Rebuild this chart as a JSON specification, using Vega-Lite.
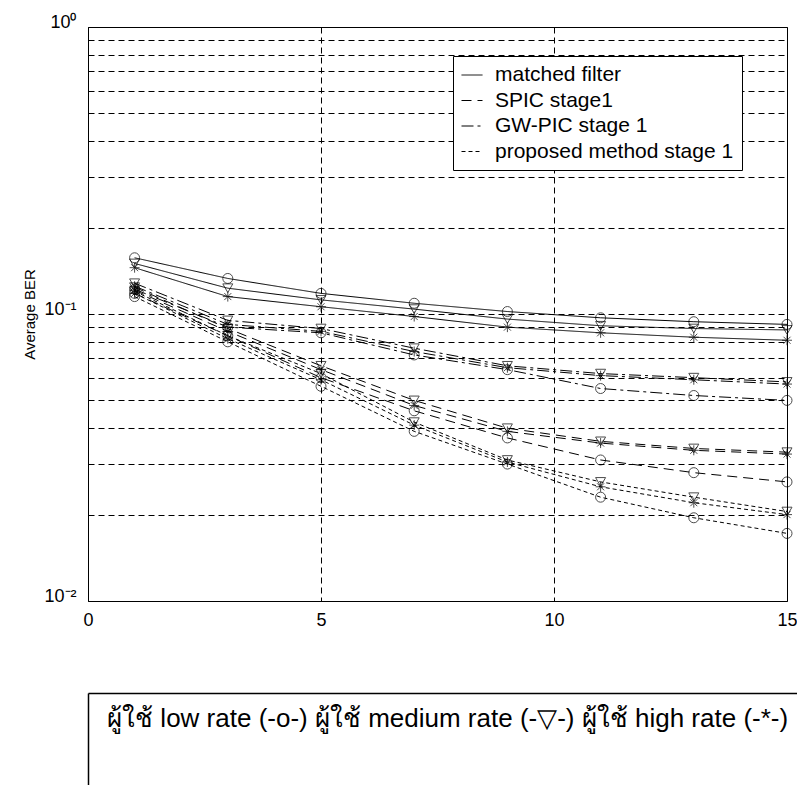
{
  "$schema": "https://vega.github.io/schema/vega-lite/v6.json",
  "background": "white",
  "padding": {"left": 22, "top": 12, "right": 0, "bottom": 0},
  "spacing": 63,
  "config": {"font": "Liberation Sans", "view": {"stroke": null}},
  "datasets": {
    "series": [
      {"method": "matched filter", "rate": "low", "x": 1, "ber": 0.157},
      {"method": "matched filter", "rate": "low", "x": 3, "ber": 0.133},
      {"method": "matched filter", "rate": "low", "x": 5, "ber": 0.118},
      {"method": "matched filter", "rate": "low", "x": 7, "ber": 0.109},
      {"method": "matched filter", "rate": "low", "x": 9, "ber": 0.102},
      {"method": "matched filter", "rate": "low", "x": 11, "ber": 0.097},
      {"method": "matched filter", "rate": "low", "x": 13, "ber": 0.094},
      {"method": "matched filter", "rate": "low", "x": 15, "ber": 0.092},
      {"method": "matched filter", "rate": "medium", "x": 1, "ber": 0.150},
      {"method": "matched filter", "rate": "medium", "x": 3, "ber": 0.123},
      {"method": "matched filter", "rate": "medium", "x": 5, "ber": 0.112},
      {"method": "matched filter", "rate": "medium", "x": 7, "ber": 0.104},
      {"method": "matched filter", "rate": "medium", "x": 9, "ber": 0.096},
      {"method": "matched filter", "rate": "medium", "x": 11, "ber": 0.091},
      {"method": "matched filter", "rate": "medium", "x": 13, "ber": 0.089},
      {"method": "matched filter", "rate": "medium", "x": 15, "ber": 0.088},
      {"method": "matched filter", "rate": "high", "x": 1, "ber": 0.145},
      {"method": "matched filter", "rate": "high", "x": 3, "ber": 0.115},
      {"method": "matched filter", "rate": "high", "x": 5, "ber": 0.106},
      {"method": "matched filter", "rate": "high", "x": 7, "ber": 0.098},
      {"method": "matched filter", "rate": "high", "x": 9, "ber": 0.090},
      {"method": "matched filter", "rate": "high", "x": 11, "ber": 0.086},
      {"method": "matched filter", "rate": "high", "x": 13, "ber": 0.083},
      {"method": "matched filter", "rate": "high", "x": 15, "ber": 0.081},

      {"method": "GW-PIC stage 1", "rate": "medium", "x": 1, "ber": 0.128},
      {"method": "GW-PIC stage 1", "rate": "medium", "x": 3, "ber": 0.095},
      {"method": "GW-PIC stage 1", "rate": "medium", "x": 5, "ber": 0.089},
      {"method": "GW-PIC stage 1", "rate": "medium", "x": 7, "ber": 0.076},
      {"method": "GW-PIC stage 1", "rate": "medium", "x": 9, "ber": 0.066},
      {"method": "GW-PIC stage 1", "rate": "medium", "x": 11, "ber": 0.062},
      {"method": "GW-PIC stage 1", "rate": "medium", "x": 13, "ber": 0.060},
      {"method": "GW-PIC stage 1", "rate": "medium", "x": 15, "ber": 0.058},
      {"method": "GW-PIC stage 1", "rate": "high", "x": 1, "ber": 0.125},
      {"method": "GW-PIC stage 1", "rate": "high", "x": 3, "ber": 0.092},
      {"method": "GW-PIC stage 1", "rate": "high", "x": 5, "ber": 0.087},
      {"method": "GW-PIC stage 1", "rate": "high", "x": 7, "ber": 0.074},
      {"method": "GW-PIC stage 1", "rate": "high", "x": 9, "ber": 0.065},
      {"method": "GW-PIC stage 1", "rate": "high", "x": 11, "ber": 0.061},
      {"method": "GW-PIC stage 1", "rate": "high", "x": 13, "ber": 0.059},
      {"method": "GW-PIC stage 1", "rate": "high", "x": 15, "ber": 0.057},
      {"method": "GW-PIC stage 1", "rate": "low", "x": 1, "ber": 0.122},
      {"method": "GW-PIC stage 1", "rate": "low", "x": 3, "ber": 0.090},
      {"method": "GW-PIC stage 1", "rate": "low", "x": 5, "ber": 0.086},
      {"method": "GW-PIC stage 1", "rate": "low", "x": 7, "ber": 0.072},
      {"method": "GW-PIC stage 1", "rate": "low", "x": 9, "ber": 0.064},
      {"method": "GW-PIC stage 1", "rate": "low", "x": 11, "ber": 0.055},
      {"method": "GW-PIC stage 1", "rate": "low", "x": 13, "ber": 0.052},
      {"method": "GW-PIC stage 1", "rate": "low", "x": 15, "ber": 0.050},

      {"method": "SPIC stage1", "rate": "medium", "x": 1, "ber": 0.124},
      {"method": "SPIC stage1", "rate": "medium", "x": 3, "ber": 0.089},
      {"method": "SPIC stage1", "rate": "medium", "x": 5, "ber": 0.066},
      {"method": "SPIC stage1", "rate": "medium", "x": 7, "ber": 0.050},
      {"method": "SPIC stage1", "rate": "medium", "x": 9, "ber": 0.040},
      {"method": "SPIC stage1", "rate": "medium", "x": 11, "ber": 0.036},
      {"method": "SPIC stage1", "rate": "medium", "x": 13, "ber": 0.034},
      {"method": "SPIC stage1", "rate": "medium", "x": 15, "ber": 0.033},
      {"method": "SPIC stage1", "rate": "high", "x": 1, "ber": 0.121},
      {"method": "SPIC stage1", "rate": "high", "x": 3, "ber": 0.087},
      {"method": "SPIC stage1", "rate": "high", "x": 5, "ber": 0.064},
      {"method": "SPIC stage1", "rate": "high", "x": 7, "ber": 0.048},
      {"method": "SPIC stage1", "rate": "high", "x": 9, "ber": 0.039},
      {"method": "SPIC stage1", "rate": "high", "x": 11, "ber": 0.0355},
      {"method": "SPIC stage1", "rate": "high", "x": 13, "ber": 0.0335},
      {"method": "SPIC stage1", "rate": "high", "x": 15, "ber": 0.0325},
      {"method": "SPIC stage1", "rate": "low", "x": 1, "ber": 0.118},
      {"method": "SPIC stage1", "rate": "low", "x": 3, "ber": 0.084},
      {"method": "SPIC stage1", "rate": "low", "x": 5, "ber": 0.060},
      {"method": "SPIC stage1", "rate": "low", "x": 7, "ber": 0.046},
      {"method": "SPIC stage1", "rate": "low", "x": 9, "ber": 0.037},
      {"method": "SPIC stage1", "rate": "low", "x": 11, "ber": 0.031},
      {"method": "SPIC stage1", "rate": "low", "x": 13, "ber": 0.028},
      {"method": "SPIC stage1", "rate": "low", "x": 15, "ber": 0.026},

      {"method": "proposed method stage 1", "rate": "medium", "x": 1, "ber": 0.120},
      {"method": "proposed method stage 1", "rate": "medium", "x": 3, "ber": 0.084},
      {"method": "proposed method stage 1", "rate": "medium", "x": 5, "ber": 0.062},
      {"method": "proposed method stage 1", "rate": "medium", "x": 7, "ber": 0.042},
      {"method": "proposed method stage 1", "rate": "medium", "x": 9, "ber": 0.031},
      {"method": "proposed method stage 1", "rate": "medium", "x": 11, "ber": 0.026},
      {"method": "proposed method stage 1", "rate": "medium", "x": 13, "ber": 0.023},
      {"method": "proposed method stage 1", "rate": "medium", "x": 15, "ber": 0.0205},
      {"method": "proposed method stage 1", "rate": "high", "x": 1, "ber": 0.118},
      {"method": "proposed method stage 1", "rate": "high", "x": 3, "ber": 0.082},
      {"method": "proposed method stage 1", "rate": "high", "x": 5, "ber": 0.059},
      {"method": "proposed method stage 1", "rate": "high", "x": 7, "ber": 0.041},
      {"method": "proposed method stage 1", "rate": "high", "x": 9, "ber": 0.0305},
      {"method": "proposed method stage 1", "rate": "high", "x": 11, "ber": 0.025},
      {"method": "proposed method stage 1", "rate": "high", "x": 13, "ber": 0.022},
      {"method": "proposed method stage 1", "rate": "high", "x": 15, "ber": 0.020},
      {"method": "proposed method stage 1", "rate": "low", "x": 1, "ber": 0.115},
      {"method": "proposed method stage 1", "rate": "low", "x": 3, "ber": 0.080},
      {"method": "proposed method stage 1", "rate": "low", "x": 5, "ber": 0.056},
      {"method": "proposed method stage 1", "rate": "low", "x": 7, "ber": 0.039},
      {"method": "proposed method stage 1", "rate": "low", "x": 9, "ber": 0.030},
      {"method": "proposed method stage 1", "rate": "low", "x": 11, "ber": 0.023},
      {"method": "proposed method stage 1", "rate": "low", "x": 13, "ber": 0.0195},
      {"method": "proposed method stage 1", "rate": "low", "x": 15, "ber": 0.0172}
    ],
    "caption": [
      {"label": "ผู้ใช้ low rate (-o-) ผู้ใช้ medium rate (-▽-) ผู้ใช้ high rate (-*-)"}
    ]
  },
  "vconcat": [
    {
      "width": 699,
      "height": 574,
      "view": {"stroke": "black", "strokeWidth": 1},
      "data": {"name": "series"},
      "encoding": {
        "x": {
          "field": "x", "type": "quantitative",
          "scale": {"domain": [0, 15], "nice": false, "zero": false},
          "axis": {
            "title": null, "values": [0, 5, 10, 15], "domain": false, "ticks": false,
            "labelFontSize": 18, "labelFont": "Liberation Sans Narrow, Liberation Sans", "labelColor": "black",
            "labelPadding": 10, "labelFlush": false,
            "grid": true, "gridColor": "black", "gridOpacity": 1, "gridDash": [6, 4], "gridWidth": 1
          }
        },
        "y": {
          "field": "ber", "type": "quantitative",
          "scale": {"type": "log", "domain": [0.01, 1], "nice": false},
          "axis": {
            "title": "Average BER", "titleFontSize": 15, "titleFontWeight": "normal", "titleColor": "black", "titlePadding": 6,
            "values": [0.01, 0.02, 0.03, 0.04, 0.05, 0.06, 0.07, 0.08, 0.09, 0.1, 0.2, 0.3, 0.4, 0.5, 0.6, 0.7, 0.8, 0.9, 1],
            "labelExpr": "datum.value == 1 ? '10⁰' : (datum.value == 0.1 ? '10⁻¹' : (datum.value == 0.01 ? '10⁻²' : ''))",
            "labelOverlap": false, "labelBound": false, "labelFlush": false,
            "labelFontSize": 18, "labelFont": "Liberation Sans Narrow, Liberation Sans", "labelColor": "black",
            "labelPadding": 12, "labelOffset": -5,
            "domain": false, "ticks": false,
            "grid": true, "gridColor": "black", "gridOpacity": 1, "gridDash": [6, 4], "gridWidth": 1
          }
        }
      },
      "layer": [
        {
          "mark": {"type": "line", "color": "black", "strokeWidth": 1},
          "encoding": {
            "strokeDash": {
              "field": "method", "type": "nominal",
              "scale": {
                "domain": ["matched filter", "SPIC stage1", "GW-PIC stage 1", "proposed method stage 1"],
                "range": [[1, 0], [10, 6], [12, 4, 3, 4], [4, 3]]
              },
              "legend": {
                "title": null, "orient": "none", "legendX": 365, "legendY": 29,
                "strokeColor": "black", "fillColor": "white", "padding": 8, "cornerRadius": 0,
                "symbolType": "stroke", "symbolSize": 441, "symbolStrokeColor": "black", "symbolStrokeWidth": 1,
                "labelFontSize": 21, "labelColor": "black", "labelOffset": 12, "rowPadding": 4.5,
                "labelLimit": 400
              }
            },
            "detail": {"field": "rate"}
          }
        },
        {
          "mark": {"type": "point", "filled": false, "color": "black", "strokeWidth": 1, "size": 100},
          "encoding": {
            "shape": {
              "field": "rate", "type": "nominal",
              "scale": {
                "domain": ["low", "medium", "high"],
                "range": ["circle", "triangle-down", "M-1,0L1,0M0,-1L0,1M-0.7,-0.7L0.7,0.7M-0.7,0.7L0.7,-0.7"]
              },
              "legend": null
            }
          }
        }
      ]
    },
    {
      "width": 709,
      "height": 92,
      "data": {"name": "caption"},
      "mark": {"type": "text", "align": "left", "baseline": "middle", "fontSize": 26, "color": "black"},
      "encoding": {
        "x": {
          "datum": 2.7, "type": "quantitative",
          "scale": {"domain": [0, 100]},
          "axis": {"orient": "top", "domain": true, "domainColor": "black", "domainWidth": 1.5, "labels": false, "ticks": false, "grid": false, "title": null}
        },
        "y": {
          "datum": 72, "type": "quantitative",
          "scale": {"domain": [0, 100]},
          "axis": {"domain": true, "domainColor": "black", "domainWidth": 1.5, "labels": false, "ticks": false, "grid": false, "title": null}
        },
        "text": {"field": "label"}
      }
    }
  ]
}
